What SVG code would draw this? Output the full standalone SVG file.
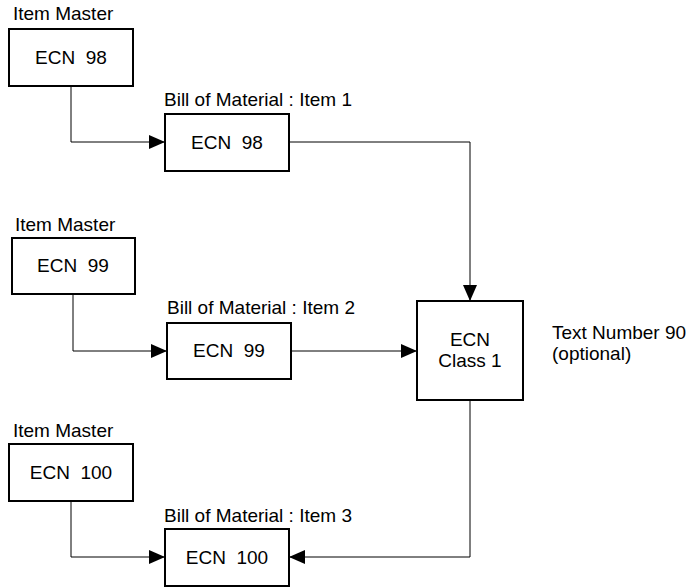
<svg xmlns="http://www.w3.org/2000/svg" width="689" height="587" viewBox="0 0 689 587" xml:space="preserve">
<style>
  text { font-family: "Liberation Sans", Arial, sans-serif; font-size: 19px; fill: #000; white-space: pre; }
  .c { text-anchor: middle; }
  .box { fill: #fff; stroke: #000; stroke-width: 2; }
  .conn { fill: none; stroke: #000; stroke-width: 1; }
</style>
<defs>
  <marker id="arr" markerUnits="userSpaceOnUse" markerWidth="16" markerHeight="14" refX="16" refY="7" orient="auto">
    <path d="M0,0 L16,7 L0,14 Z" fill="#000"/>
  </marker>
</defs>
<rect width="689" height="587" fill="#fff"/>
<g id="connectors">
  <path class="conn" d="M71,86 V142 H165" marker-end="url(#arr)"/>
  <path class="conn" d="M289,142 H470 V301" marker-end="url(#arr)"/>
  <path class="conn" d="M73,294 V351 H167" marker-end="url(#arr)"/>
  <path class="conn" d="M291,351 H417" marker-end="url(#arr)"/>
  <path class="conn" d="M470,400 V557 H289" marker-end="url(#arr)"/>
  <path class="conn" d="M71,501 V557 H165" marker-end="url(#arr)"/>
</g>
<g id="im1">
  <text x="13" y="20">Item Master</text>
  <rect class="box" x="9" y="29" width="124" height="57"/>
  <text class="c" x="71" y="64">ECN  98</text>
</g>
<g id="bom1">
  <text x="164" y="106">Bill of Material : Item 1</text>
  <rect class="box" x="165" y="114" width="124" height="57"/>
  <text class="c" x="227" y="149">ECN  98</text>
</g>
<g id="im2">
  <text x="15" y="231">Item Master</text>
  <rect class="box" x="12" y="238" width="123" height="56"/>
  <text class="c" x="73" y="272">ECN  99</text>
</g>
<g id="bom2">
  <text x="167" y="314">Bill of Material : Item 2</text>
  <rect class="box" x="167" y="323" width="124" height="56"/>
  <text class="c" x="229" y="357">ECN  99</text>
</g>
<g id="ecn">
  <rect class="box" x="417" y="301" width="106" height="99"/>
  <text class="c" x="470" y="346">ECN</text>
  <text class="c" x="470" y="367">Class 1</text>
</g>
<g id="note">
  <text x="552" y="339">Text Number 90</text>
  <text x="552" y="360">(optional)</text>
</g>
<g id="im3">
  <text x="13" y="437">Item Master</text>
  <rect class="box" x="9" y="444" width="124" height="57"/>
  <text class="c" x="71" y="479">ECN  100</text>
</g>
<g id="bom3">
  <text x="164" y="522">Bill of Material : Item 3</text>
  <rect class="box" x="165" y="529" width="124" height="57"/>
  <text class="c" x="227" y="564">ECN  100</text>
</g>
</svg>
